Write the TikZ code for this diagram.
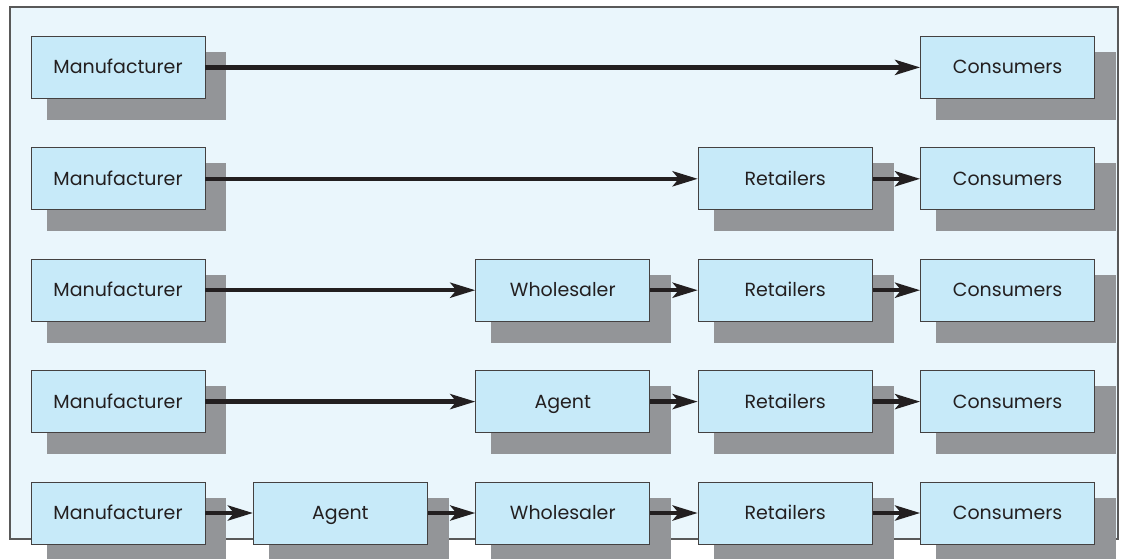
\documentclass[tikz,border=0pt]{standalone}
\usepackage{fontspec}
\setmainfont{Poppins}
\usetikzlibrary{positioning,calc,backgrounds,arrows.meta}

\definecolor{panelblue}{HTML}{EAF6FC}
\definecolor{boxblue}{HTML}{C7EAF9}
\definecolor{shadowgray}{HTML}{939598}
\definecolor{inkdark}{HTML}{231F20}

\begin{document}
\begin{tikzpicture}[
  x=1pt, y=1pt,
  node distance=48.5pt and 47.5pt,
  chanbox/.style={rectangle, draw=inkdark!85, line width=0.9pt, fill=boxblue,
    minimum width=174pt, minimum height=62pt, inner sep=0pt,
    text height=13pt, text depth=0pt,
    font=\fontsize{19}{22}\selectfont, text=inkdark},
  flow/.style={draw=inkdark, line width=4.5pt,
    -{Stealth[length=25pt, width=15pt, inset=6pt]}}
]
  \useasboundingbox (0,0) rectangle (1125,-558);

  % bottom row: the full chain
  \node (m5) [chanbox] at (118,-513) {Manufacturer};
  \node (a5) [chanbox, right=of m5] {Agent};
  \node (w5) [chanbox, right=of a5] {Wholesaler};
  \node (r5) [chanbox, right=of w5] {Retailers};
  \node (c5) [chanbox, right=of r5] {Consumers};

  % row 4
  \node (m4) [chanbox, above=of m5] {Manufacturer};
  \node (a4) [chanbox, above=of w5] {Agent};
  \node (r4) [chanbox, above=of r5] {Retailers};
  \node (c4) [chanbox, above=of c5] {Consumers};

  % row 3
  \node (m3) [chanbox, above=of m4] {Manufacturer};
  \node (w3) [chanbox, above=of a4] {Wholesaler};
  \node (r3) [chanbox, above=of r4] {Retailers};
  \node (c3) [chanbox, above=of c4] {Consumers};

  % row 2
  \node (m2) [chanbox, above=of m3] {Manufacturer};
  \node (r2) [chanbox, above=of r3] {Retailers};
  \node (c2) [chanbox, above=of c3] {Consumers};

  % row 1
  \node (m1) [chanbox, above=of m2] {Manufacturer};
  \node (c1) [chanbox, above=of c2] {Consumers};

  \begin{scope}[on background layer]
    \fill[panelblue, draw=black!65, line width=1.2pt] (10,-7) rectangle (1118,-539);
    \foreach \n in {m1,c1,m2,r2,c2,m3,w3,r3,c3,m4,a4,r4,c4,m5,a5,w5,r5,c5}
      \fill[shadowgray] ($(\n.south west)+(16,-21)$) rectangle ($(\n.north east)+(21,-16)$);
  \end{scope}

  \foreach \a/\b in {m1/c1, m2/r2, r2/c2, m3/w3, w3/r3, r3/c3,
                     m4/a4, a4/r4, r4/c4, m5/a5, a5/w5, w5/r5, r5/c5}
    \draw[flow] (\a) -- (\b);
\end{tikzpicture}
\end{document}
